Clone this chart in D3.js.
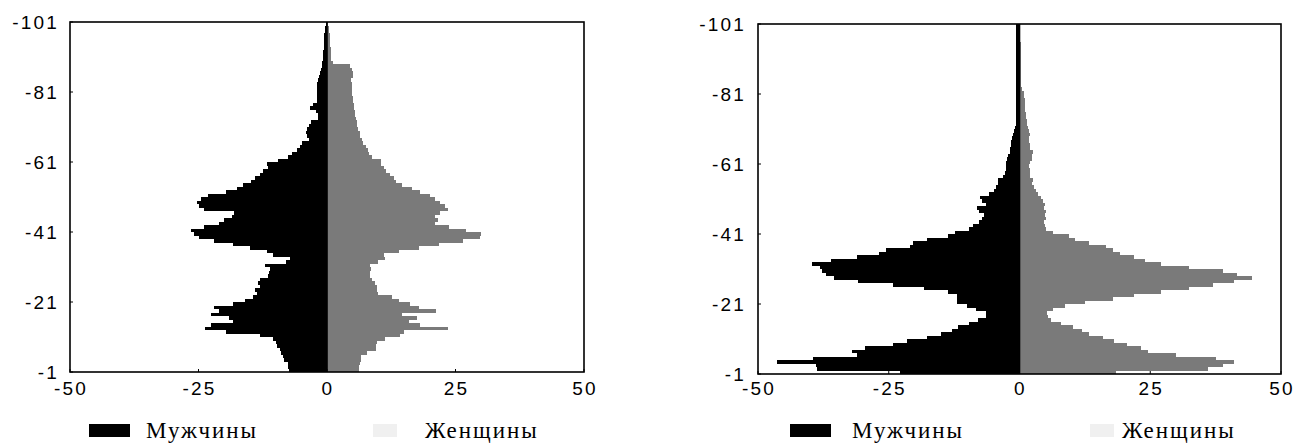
<!DOCTYPE html>
<html>
<head>
<meta charset="utf-8">
<script src="https://cdn.jsdelivr.net/npm/d3@7/dist/d3.min.js"></script>
<style>
  html, body { margin: 0; padding: 0; background: #fff; }
  svg { display: block; }
</style>
</head>
<body>
<svg id="chart" width="1295" height="445"></svg>
<script>
// ---------- DATA ----------
// ages 0..99 ; y value plotted = -(age+1) .. -(age+2)
const ages = d3.range(0, 100);
const xTicks = [-50, -25, 0, 25, 50];
const yTicks = [-101, -81, -61, -41, -21, -1];
const legendLabels = ["Мужчины", "Женщины"];

const leftMale = [-7.4,-7.5,-7.6,-8.4,-8.6,-9,-9.1,-9.7,-10,-10.5,
  -13,-19.6,-23.7,-22.6,-18.3,-19,-22.6,-21,-22,-18.3,
  -16,-14.3,-13.7,-14,-13,-13.4,-13,-11.5,-11.2,-11,
  -12,-8,-7.2,-10.5,-11.7,-15,-18.3,-22,-25,-25.8,
  -26.4,-24,-21,-20,-18.5,-18,-24,-24.9,-25.2,-24.5,
  -23.2,-19.6,-17.6,-16.3,-14.8,-14,-13,-12.4,-11.5,-11.7,
  -9.5,-7.5,-6.8,-5.8,-5.3,-4.8,-3.5,-3.8,-4,-3.8,
  -3.5,-3.2,-1.8,-1.8,-2.2,-3.3,-2.8,-2,-2,-2,
  -2,-2,-2,-1.8,-1.6,-1.3,-1.1,-1.0,-0.9,-0.8,
  -0.7,-0.7,-0.6,-0.6,-0.6,-0.5,-0.5,-0.4,-0.3,-0.2];

const leftFemale = [6.2,6.3,6.4,6.7,6.7,7.7,9.5,9.6,9.7,11.3,
  14.2,15,23.6,18,16,17.5,14.6,21.3,17.9,16.2,
  14,12.6,10,9.7,9.7,9.3,8.7,8.4,8.4,8.6,
  8.4,10,11.3,11,14,17.9,21.8,26.4,29.7,30,
  27.1,23.8,21,21.5,21,22,23.5,23,22,21,
  20,18,16.5,14.5,13.5,13,12.3,11.5,11,10.5,
  10.5,8.7,8.2,7.9,7.5,7,6.8,6.5,6.4,6,
  5.8,5.8,5.6,5.4,5.4,5.3,5.2,5.1,5,4.9,
  4.8,4.9,4.8,4.7,5,5,4.8,4.5,1.2,0.8,
  0.7,0.7,0.7,0.6,0.6,0.6,0.5,0.4,0.3,0.2];

const rightMale = [-22.9,-38.7,-39,-46.4,-39.5,-31,-32,-29.5,-24.2,-21.5,
  -17.6,-15,-13,-11.7,-9.7,-8,-6.5,-6.4,-8.4,-10,
  -12,-12,-12,-13.7,-18.3,-24.2,-30.8,-35.4,-37,-37.7,
  -38.2,-39.7,-36,-31,-26.8,-25.5,-20.9,-20.3,-17.6,-13.7,
  -12.4,-9.7,-8.8,-7.8,-7.1,-6.8,-7.8,-8.1,-6.4,-7.1,
  -7.6,-5.8,-4.8,-4.5,-4.2,-4.2,-3.2,-2.8,-2.6,-2.5,
  -2.6,-2.4,-2.2,-1.8,-1.9,-1.6,-1.6,-1.5,-1.3,-1.1,
  -0.9,-0.7,-0.7,-0.6,-0.7,-0.6,-0.6,-0.6,-0.6,-0.6,
  -0.6,-0.6,-0.6,-0.6,-0.6,-0.6,-0.6,-0.6,-0.6,-0.6,
  -0.6,-0.6,-0.6,-0.6,-0.6,-0.6,-0.6,-0.6,-0.6,-0.6];

const rightFemale = [18.5,36,39,41,37.6,30,24.5,23.2,20.5,18,
  16,13.3,12,10.3,8,6.1,5.4,5.2,6.5,8.7,
  12.6,17.9,21.8,27.1,32.4,37,41,44.5,41.6,38.9,
  32.4,27.1,24,21.8,19.2,17.9,16.6,13.3,10.7,9.5,
  6.5,5,4.8,4.6,5,4.8,5,4.6,4.8,4.4,
  4.2,3.5,3.2,2.8,2.4,2.5,2.1,2,2,1.8,
  2,2.4,2.4,2.5,2.1,2,1.9,1.8,2,1.8,
  1.6,1.5,1.4,1.3,1.2,1.1,1.1,1.0,1.0,0.9,
  0.8,0.5,0.3,0.3,0.3,0.3,0.2,0.2,0.2,0.2,
  0.2,0.2,0.2,0.2,0.2,0.1,0.1,0.1,0.1,0.1];

// ---------- DRAW ----------
const svg = d3.select("#chart");
const maleColor = "#000000";
const femaleColor = "#7a7a7a";

const panels = [
  { male: leftMale, female: leftFemale, x0: 70, x1: 584, y0: 22, y1: 372, ylab: 59,
    legend: { mRect: 89, mText: 146, fRect: 373, fText: 425 } },
  { male: rightMale, female: rightFemale, x0: 758, x1: 1281, y0: 24, y1: 374, ylab: 746,
    legend: { mRect: 790, mText: 852, fRect: 1090, fText: 1122 } }
];

panels.forEach(p => {
  const g = svg.append("g");
  const x = d3.scaleLinear().domain([-50, 50]).range([p.x0, p.x1]);
  const y = d3.scaleLinear().domain([-101, -1]).range([p.y0, p.y1]);

  const drawSeries = (vals, color) => {
    g.append("g").selectAll("rect").data(ages).join("rect")
      .attr("x", a => Math.min(x(0), x(vals[a])))
      .attr("width", a => Math.abs(x(vals[a]) - x(0)))
      .attr("y", a => y(-(a + 2)))
      .attr("height", a => y(-(a + 1)) - y(-(a + 2)))
      .attr("fill", color)
      .attr("shape-rendering", "crispEdges");
  };
  drawSeries(p.male, maleColor);
  drawSeries(p.female, femaleColor);

  // frame
  g.append("rect")
    .attr("x", p.x0).attr("y", p.y0)
    .attr("width", p.x1 - p.x0).attr("height", p.y1 - p.y0)
    .attr("fill", "none").attr("stroke", "#000").attr("stroke-width", 1.6);
  // zero line
  g.append("line")
    .attr("x1", x(0)).attr("x2", x(0)).attr("y1", p.y0).attr("y2", p.y1)
    .attr("stroke", "#000").attr("stroke-width", 1.6);

  // small inward ticks
  g.append("g").selectAll("line").data(yTicks).join("line")
    .attr("x1", p.x0).attr("x2", p.x0 + 3)
    .attr("y1", d => y(d)).attr("y2", d => y(d))
    .attr("stroke", "#000").attr("stroke-width", 1);
  g.append("g").selectAll("line").data(xTicks).join("line")
    .attr("x1", d => x(d)).attr("x2", d => x(d))
    .attr("y1", p.y1).attr("y2", p.y1 - 3)
    .attr("stroke", "#000").attr("stroke-width", 1);

  // y labels
  g.append("g").selectAll("text").data(yTicks).join("text")
    .attr("x", p.ylab).attr("y", d => y(d)).attr("dy", "0.36em")
    .attr("text-anchor", "end")
    .style("font-family", "'Liberation Sans', Arial, sans-serif")
    .style("font-size", "19px").style("letter-spacing", "2.2px")
    .text(d => d);
  // x labels
  g.append("g").selectAll("text").data(xTicks).join("text")
    .attr("x", d => x(d) + 1).attr("y", 395)
    .attr("text-anchor", "middle")
    .style("font-family", "'Liberation Sans', Arial, sans-serif")
    .style("font-size", "19px").style("letter-spacing", "2.2px")
    .text(d => d);

  // legend
  const L = p.legend;
  g.append("rect").attr("x", L.mRect).attr("y", 424).attr("width", 41).attr("height", 13).attr("fill", "#000");
  g.append("rect").attr("x", L.fRect).attr("y", 424).attr("width", 24).attr("height", 13).attr("fill", "#f0f0f0");
  g.append("text").attr("x", L.mText).attr("y", 438)
    .style("font-family", "'Liberation Serif', 'Times New Roman', serif")
    .style("font-size", "23px").style("letter-spacing", "2px")
    .text(legendLabels[0]);
  g.append("text").attr("x", L.fText).attr("y", 438)
    .style("font-family", "'Liberation Serif', 'Times New Roman', serif")
    .style("font-size", "23px").style("letter-spacing", "2px")
    .text(legendLabels[1]);
});
</script>
</body>
</html>
